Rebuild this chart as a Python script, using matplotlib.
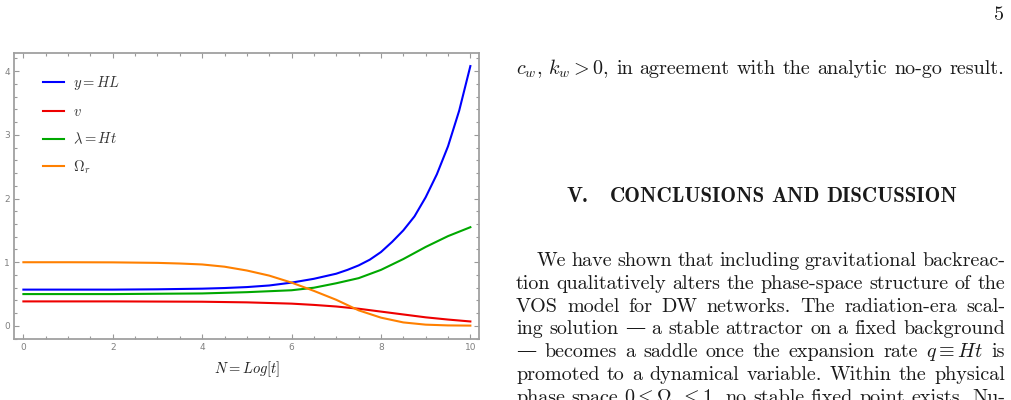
import matplotlib
matplotlib.use("Agg")
import matplotlib.pyplot as plt
from matplotlib.ticker import MultipleLocator
import numpy as np

# -------------------------------------------------------------
# Data
# -------------------------------------------------------------
N_y = [0, 1, 2, 3, 4, 4.5, 5, 5.5, 6, 6.5, 7, 7.25, 7.5, 7.75, 8, 8.25, 8.5,
       8.75, 9, 9.25, 9.5, 9.75, 10]
y_HL = [0.57, 0.57, 0.57, 0.575, 0.585, 0.595, 0.61, 0.635, 0.68, 0.74, 0.82,
        0.88, 0.95, 1.04, 1.16, 1.32, 1.5, 1.72, 2.02, 2.38, 2.82, 3.38, 4.08]

N_v = [0, 2, 4, 5, 6, 6.5, 7, 7.5, 8, 8.5, 9, 9.5, 10]
v = [0.385, 0.385, 0.38, 0.37, 0.35, 0.33, 0.305, 0.27, 0.225, 0.18, 0.135,
     0.1, 0.07]

N_lam = [0, 2, 4, 5, 5.5, 6, 6.5, 7, 7.5, 8, 8.5, 9, 9.5, 10]
lam = [0.5, 0.5, 0.51, 0.53, 0.545, 0.56, 0.6, 0.67, 0.75, 0.88, 1.05, 1.24,
       1.41, 1.55]

N_om = [0, 1, 2, 3, 3.5, 4, 4.5, 5, 5.5, 6, 6.5, 7, 7.5, 8, 8.5, 9, 9.5, 10]
omega_r = [1.0, 1.0, 0.998, 0.99, 0.98, 0.965, 0.93, 0.87, 0.79, 0.68, 0.55,
           0.41, 0.245, 0.13, 0.055, 0.02, 0.008, 0.005]

labels = [r"$y = HL$", r"$v$", r"$\lambda = Ht$", r"$\Omega_r$"]
x_ticks = [0, 2, 4, 6, 8, 10]
y_ticks = [0, 1, 2, 3, 4]

# right-hand column text
page_no = "5"
first_line = r"$c_w,\,k_w>0$, in agreement with the analytic no-go result."
sec_num = "V."
sec_title = "CONCLUSIONS AND DISCUSSION"
para = [
    "We have shown that including gravitational backreac-",
    "tion qualitatively alters the phase-space structure of the",
    "VOS model for DW networks.  The radiation-era scal-",
    "ing solution \u2014 a stable attractor on a fixed background",
    "\u2014 becomes a saddle once the expansion rate $q\\equiv{Ht}$ is",
    "promoted to a dynamical variable.  Within the physical",
    r"phase space $0\leq\Omega_r\leq1$, no stable fixed point exists.  Nu-",
]

# -------------------------------------------------------------
# Figure
# -------------------------------------------------------------
plt.rcParams["mathtext.fontset"] = "cm"
W, H = 1012, 400
fig = plt.figure(figsize=(W / 100, H / 100), dpi=100)

ax = fig.add_axes([14 / W, 1 - 339.3 / H, (479.3 - 14) / W, (339.3 - 52.7) / H])
ax.plot(N_y, y_HL, color="#0000ff", lw=1.5, label=labels[0])
ax.plot(N_v, v, color="#ee0000", lw=1.5, label=labels[1])
ax.plot(N_lam, lam, color="#00a800", lw=1.5, label=labels[2])
ax.plot(N_om, omega_r, color="#ff8000", lw=1.5, label=labels[3])

ax.set_xlim(-0.21, 10.2)
ax.set_ylim(-0.21, 4.29)
ax.set_xticks(x_ticks)
ax.set_yticks(y_ticks)
ax.xaxis.set_minor_locator(MultipleLocator(0.5))
ax.yaxis.set_minor_locator(MultipleLocator(0.2))
ax.tick_params(which="both", direction="in", top=True, right=True,
               color="#999999", width=0.8, labelsize=6.5, labelcolor="#808080")
ax.tick_params(which="major", length=3.5, pad=3)
ax.tick_params(which="minor", length=2)
for s in ax.spines.values():
    s.set_color("#a0a0a0")
    s.set_linewidth(1.3)

ax.set_xlabel(r"$N = Log[t]$", fontsize=10.5, labelpad=5, color="#222222")

leg = ax.legend(loc="upper left", bbox_to_anchor=(0.05, 0.945), frameon=False,
                fontsize=10.5, handlelength=1.45, handletextpad=0.6,
                labelspacing=0.82, borderaxespad=0)
for t in leg.get_texts():
    t.set_color("#333333")

# -------------------------------------------------------------
# Right column text
# -------------------------------------------------------------
renderer = fig.canvas.get_renderer()
cm_body = ["cmr10", "DejaVu Serif"]
cm_bold = ["cmb10", "DejaVu Serif"]


def natural_width(s, size, family):
    t = fig.text(0, 0, s, fontsize=size, family=family)
    w = t.get_window_extent(renderer).width
    t.remove()
    return w


# pick a font size so that the unjustified line spans as in the page
scale = (1004 - 516) / natural_width(first_line, 10, cm_body)
body_size = 10 * scale
body = dict(fontsize=body_size, family=cm_body, color="#1a1a1a",
            va="baseline", ha="left")

head_scale = (957 - 610) / natural_width(sec_title, 10, cm_bold)
head = dict(body, family=cm_bold, fontsize=10 * head_scale)


def justify(line, x0, x1, y, **kw):
    words = line.split()
    texts = [fig.text(0, 1 - y / H, w, **kw) for w in words]
    widths = [t.get_window_extent(renderer).width for t in texts]
    gap = (x1 - x0 - sum(widths)) / max(len(words) - 1, 1)
    x = x0
    for t, w in zip(texts, widths):
        t.set_x(x / W)
        x += w + gap


fig.text(1004 / W, 1 - 20 / H, page_no, **{**body, "ha": "right"})
justify(first_line, 516, 1004, 74, **body)

fig.text(566.5 / W, 1 - 202 / H, sec_num, **head)
justify(sec_title, 610, 957, 202, **head)

baselines = [266, 288.8, 311.6, 334.4, 357.2, 380, 402.8]
for i, (line, yb) in enumerate(zip(para, baselines)):
    x0 = 536.7 if i == 0 else 516
    justify(line, x0, 1005, yb, **body)

fig.savefig("out.png", dpi=100)
